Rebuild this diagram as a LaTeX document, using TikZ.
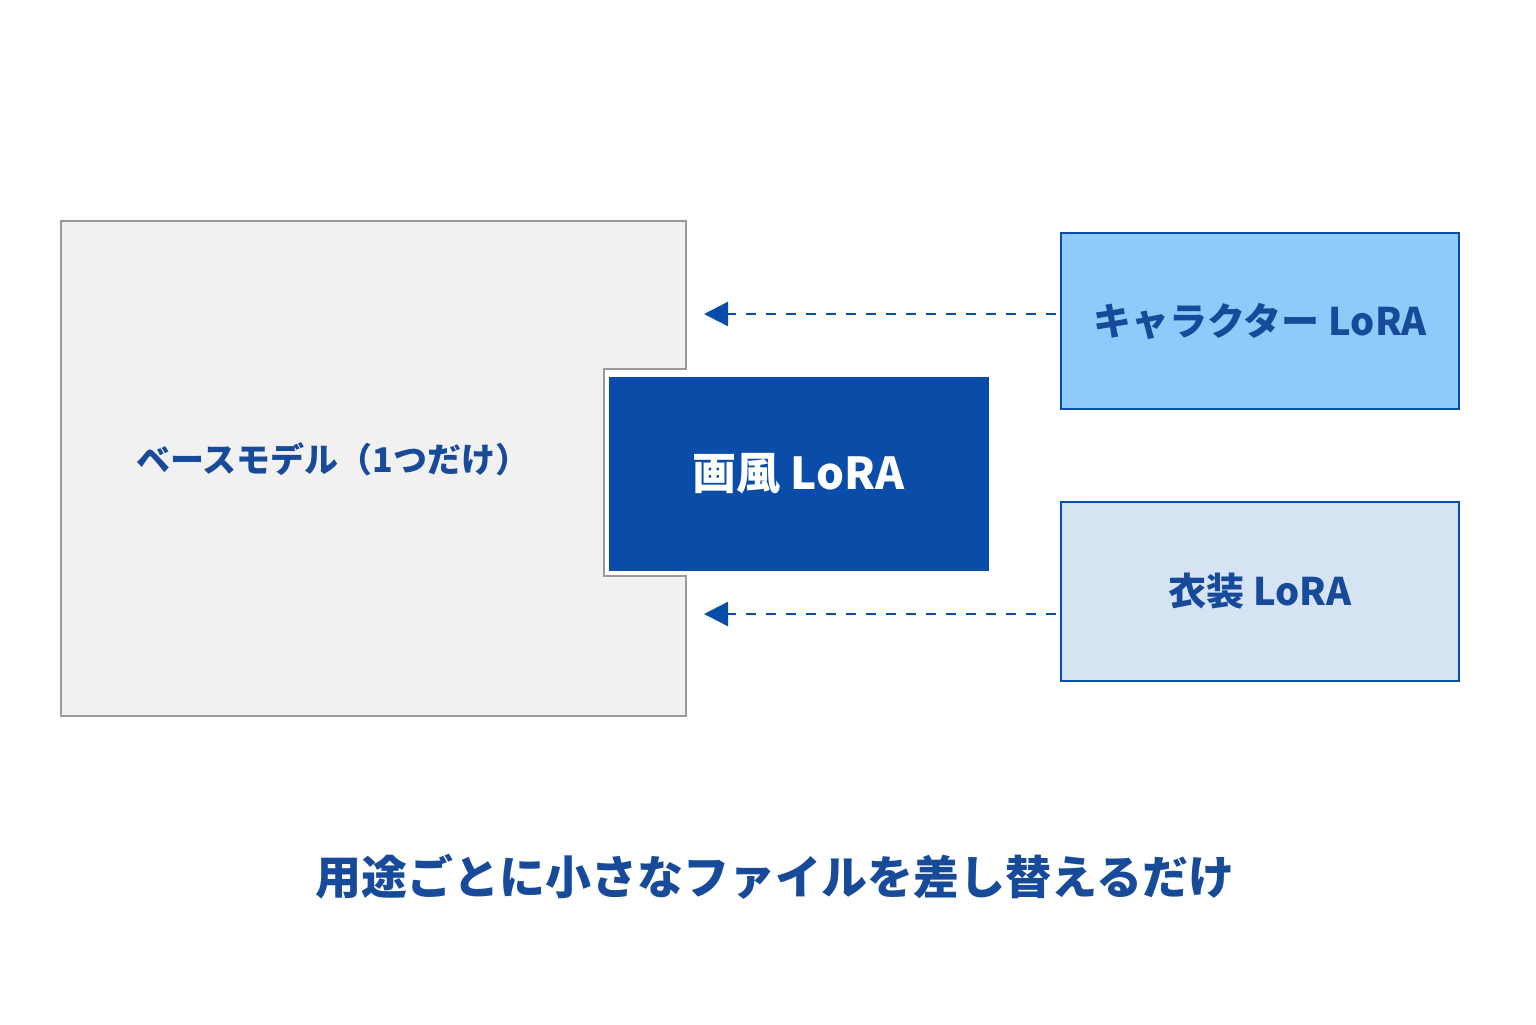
\documentclass[tikz,border=0pt]{standalone}
\usepackage{fontspec}
\newfontfamily\cjk{Noto Sans CJK JP}
\usetikzlibrary{arrows.meta}
\definecolor{dblue}{HTML}{0A4DA8}
\definecolor{tblue}{HTML}{174A98}
\definecolor{lblue}{HTML}{8FCBFA}
\definecolor{pblue}{HTML}{D6E3F3}
\definecolor{bgray}{HTML}{F1F1F1}
\definecolor{sgray}{HTML}{9A9A9A}
\tikzset{
 lora/.style={draw=dblue,line width=1.2pt,inner sep=0pt,font=\cjk\bfseries,text=tblue},
 arr/.style={draw=dblue,line width=1.2pt,dash pattern=on 5pt off 5pt,-{Triangle[length=12pt,width=12pt]}}
}
\begin{document}
\begin{tikzpicture}[x=0.5pt,y=-0.5pt]
\useasboundingbox (0,0) rectangle (1536,1024);
\fill[white] (0,0) rectangle (1536,1024);
\draw[fill=bgray,draw=sgray,line width=1.2pt] (61,221) -- (686,221) -- (686,369) -- (604,369) -- (604,576) -- (686,576) -- (686,716) -- (61,716) -- cycle;
\node[font=\cjk\fontsize{17}{20}\selectfont\bfseries,text=tblue] (base) at (333,459) {ベースモデル（1つだけ）};
\node[fill=dblue,draw=dblue,minimum width=189.5pt,minimum height=96.5pt,inner sep=0pt,font=\cjk\bfseries\fontsize{22}{26}\selectfont,text=white] (style) at (798.5,473.5) {画風 LoRA};
\node[lora,fill=lblue,minimum width=199pt,minimum height=88pt,font=\cjk\bfseries\fontsize{19}{22}\selectfont] (chara) at (1260,321) {キャラクター LoRA};
\node[lora,fill=pblue,minimum width=199pt,minimum height=89.5pt,font=\cjk\bfseries\fontsize{19}{22}\selectfont] (cos) at (1260,591.5) {衣装 LoRA};
\coordinate (t1) at (704,314);
\coordinate (t2) at (704,614);
\draw[arr] (chara.west |- t1) ++(-4,0) -- (t1);
\draw[arr] (cos.west |- t2) ++(-4,0) -- (t2);
\node[font=\cjk\bfseries\fontsize{23}{27}\selectfont,text=tblue] (cap) at (775,877) {用途ごとに小さなファイルを差し替えるだけ};
\end{tikzpicture}
\end{document}
